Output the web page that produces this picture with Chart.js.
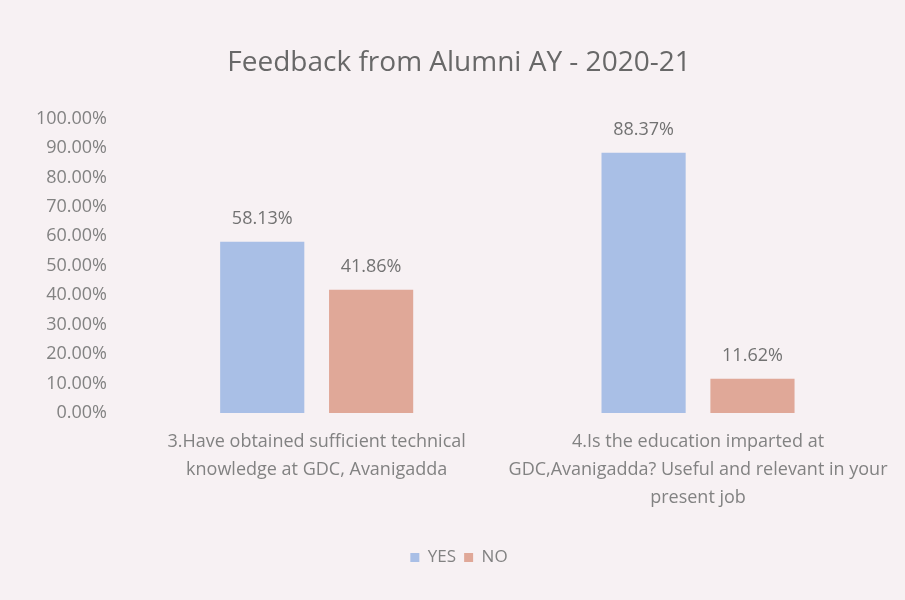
<!DOCTYPE html>
<html>
<head>
<meta charset="utf-8">
<script src="https://cdn.jsdelivr.net/npm/chart.js@4/dist/chart.umd.min.js"></script>
<style>
html,body{margin:0;padding:0;background:#f7f1f3;}
#wrap{width:905px;height:600px;}
</style>
</head>
<body>
<div id="wrap"><canvas id="c" width="905" height="600"></canvas></div>
<script>
const categories = [
  ["3.Have obtained sufficient technical", "knowledge at GDC, Avanigadda"],
  ["4.Is the education imparted at", "GDC,Avanigadda? Useful and relevant in your", "present job"]
];
const yesValues = [58.13, 88.37];
const noValues = [41.86, 11.62];
const seriesNames = ["YES", "NO"];
const yTicks = [0, 10, 20, 30, 40, 50, 60, 70, 80, 90, 100];

const FONT = "'Open Sans', 'DejaVu Sans', sans-serif";
const TXT = '#828282';

const valueLabels = {
  id: 'valueLabels',
  afterDatasetsDraw(chart) {
    const ctx = chart.ctx;
    ctx.save();
    ctx.font = "18px " + FONT;
    ctx.fillStyle = '#727272';
    ctx.textAlign = 'center';
    ctx.textBaseline = 'middle';
    chart.data.datasets.forEach((ds, i) => {
      chart.getDatasetMeta(i).data.forEach((bar, j) => {
        ctx.fillText(ds.data[j].toFixed(2) + '%', bar.x, bar.y - 23);
      });
    });
    ctx.restore();
  }
};

new Chart(document.getElementById('c'), {
  type: 'bar',
  data: {
    labels: categories,
    datasets: [
      { label: seriesNames[0], data: yesValues, backgroundColor: '#a9bfe6' },
      { label: seriesNames[1], data: noValues, backgroundColor: '#e0a898' }
    ]
  },
  options: {
    responsive: false,
    animation: false,
    layout: { padding: { left: 23, right: 10, top: 10, bottom: 24 } },
    datasets: { bar: { categoryPercentage: 0.571, barPercentage: 0.773 } },
    plugins: {
      title: {
        display: true,
        text: 'Feedback from Alumni AY - 2020-21',
        color: '#686868',
        font: { family: FONT, size: 28, weight: 'normal' },
        padding: { top: 36, bottom: 39 }
      },
      legend: {
        position: 'bottom',
        labels: {
          color: TXT,
          font: { family: FONT, size: 17 },
          boxWidth: 9, boxHeight: 9, padding: 8
        }
      },
      tooltip: { enabled: false }
    },
    scales: {
      x: {
        grid: { display: false, drawTicks: false },
        border: { display: false },
        afterFit(scale) { scale.height = 128; },
        ticks: { color: TXT, font: { family: FONT, size: 18, lineHeight: 1.55 }, maxRotation: 0, autoSkip: false, padding: 15 }
      },
      y: {
        min: 0, max: 100,
        afterBuildTicks(axis) { axis.ticks = yTicks.map(v => ({ value: v })); },
        afterFit(scale) { scale.width = 103; },
        grid: { display: false, drawTicks: false },
        border: { display: false },
        ticks: { color: TXT, font: { family: FONT, size: 18 }, padding: 19, callback: v => v.toFixed(2) + '%' }
      }
    }
  },
  plugins: [valueLabels]
});
</script>
</body>
</html>
